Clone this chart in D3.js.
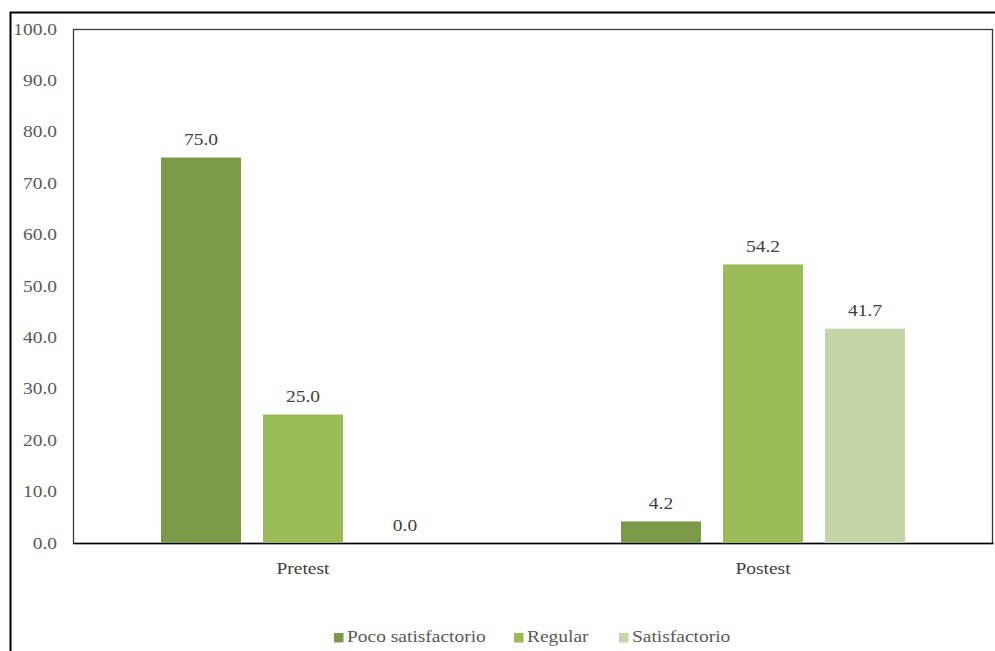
<!DOCTYPE html>
<html>
<head>
<meta charset="utf-8">
<script src="https://cdn.jsdelivr.net/npm/d3@7"></script>
<style>
  html, body { margin: 0; padding: 0; background: #fff; }
  svg { display: block; }
</style>
</head>
<body>
<svg id="chart" width="995" height="651"></svg>
<script>
// Grouped bars: satisfaction levels before and after
const groups = ["Pretest", "Postest"];
const seriesNames = ["Poco satisfactorio", "Regular", "Satisfactorio"];
const pretestValues = [75.0, 25.0, 0.0];
const postestValues = [4.2, 54.2, 41.7];
const yTicks = [0, 10, 20, 30, 40, 50, 60, 70, 80, 90, 100];
const colors = ["#7A9A48", "#9BBB59", "#C4D6A8"];

const FONT = "'Liberation Serif', serif";
const FS = 16.5;      // font size
const SX = 1.18;      // horizontal stretch of the type
const values = [pretestValues, postestValues];
const svg = d3.select("#chart");

// Widen a text element horizontally around its anchor point
function stretch(sel) {
  sel.each(function() {
    const t = d3.select(this);
    const x = +t.attr("x") || 0, y = +t.attr("y") || 0;
    t.attr("x", null).attr("y", null)
      .attr("transform", `translate(${x},${y}) scale(${SX},1)`);
  });
}

// Outer frame
svg.append("path")
  .attr("d", "M10.5,651 V12.5 H995")
  .attr("fill", "none").attr("stroke", "#000").attr("stroke-width", 2);

const plot = { left: 73, right: 993, top: 29, bottom: 543 };

const x0 = d3.scaleBand().domain(groups).range([plot.left, plot.right]).paddingInner(0).paddingOuter(0);
const x1 = d3.scaleBand().domain(seriesNames).range([0, x0.bandwidth()]).paddingInner(0.2157).paddingOuter(0.863);
const y = d3.scaleLinear().domain([0, 100]).range([plot.bottom, plot.top]);

// Plot area box
svg.append("rect")
  .attr("x", plot.left + 0.5).attr("y", plot.top + 0.5)
  .attr("width", plot.right - plot.left - 1).attr("height", plot.bottom - plot.top)
  .attr("fill", "none").attr("stroke", "#3a3a3a").attr("stroke-width", 1.3);

// Y axis labels
const yAxis = d3.axisLeft(y).tickValues(yTicks).tickFormat(d3.format(".1f")).tickSize(0).tickPadding(16);
const gy = svg.append("g").attr("transform", `translate(${plot.left},0)`).call(yAxis);
gy.attr("font-family", null).attr("font-size", null);
gy.select(".domain").remove();
gy.selectAll("text").attr("dy", null).attr("y", 5)
  .attr("font-size", FS).attr("fill", "#595959").style("font-family", FONT)
  .call(stretch);

// X axis
const xAxis = d3.axisBottom(x0).tickSize(0).tickPadding(19);
const gx = svg.append("g").attr("transform", `translate(0,${plot.bottom})`).call(xAxis);
gx.attr("font-family", null).attr("font-size", null);
gx.select(".domain").attr("stroke", "#000").attr("stroke-width", 1.5);
gx.selectAll("text").attr("dy", null).attr("y", 31)
  .attr("font-size", FS).attr("fill", "#404040").style("font-family", FONT)
  .call(stretch);

// Bars
const gGroups = svg.append("g").selectAll("g").data(groups).join("g")
  .attr("transform", d => `translate(${x0(d)},0)`);

gGroups.each(function(g, gi) {
  const sel = d3.select(this);
  const data = seriesNames.map((s, i) => ({ s, i, v: values[gi][i] }));
  sel.selectAll("rect").data(data).join("rect")
    .attr("x", d => x1(d.s))
    .attr("y", d => y(d.v))
    .attr("width", x1.bandwidth())
    .attr("height", d => y(0) - y(d.v))
    .attr("fill", d => colors[d.i]);
  sel.selectAll("text.lbl").data(data).join("text")
    .attr("class", "lbl")
    .attr("x", d => x1(d.s) + x1.bandwidth() / 2)
    .attr("y", d => y(d.v) - 12.5)
    .attr("text-anchor", "middle")
    .attr("font-size", FS).attr("fill", "#404040")
    .style("font-family", FONT)
    .text(d => d3.format(".1f")(d.v))
    .call(stretch);
});

// Legend
const legendSquareX = [334, 514, 619];
seriesNames.forEach((s, i) => {
  svg.append("rect").attr("x", legendSquareX[i]).attr("y", 633)
    .attr("width", 9.5).attr("height", 9.5).attr("fill", colors[i]);
  svg.append("text").attr("x", legendSquareX[i] + 13).attr("y", 642)
    .attr("font-size", FS).attr("fill", "#595959")
    .style("font-family", FONT).text(s)
    .call(stretch);
});
</script>
</body>
</html>
